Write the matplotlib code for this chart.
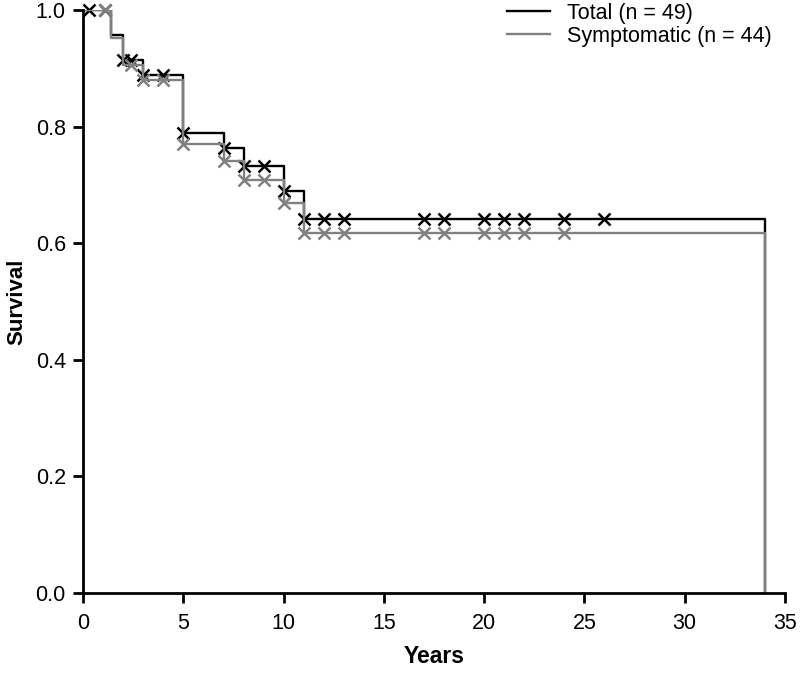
#!/usr/bin/env python3
"""Kaplan-Meier survival curves, total vs symptomatic."""

import matplotlib
matplotlib.use('Agg')
import matplotlib.pyplot as plt

plt.rcParams['font.family'] = ['Liberation Sans', 'DejaVu Sans']

# Total (n = 49): step times / survival after each step
tot_t = [0, 1.4, 2, 3, 5, 7, 8, 10, 11, 34]
tot_s = [1.0, 0.957, 0.914, 0.888, 0.789, 0.763, 0.732, 0.689, 0.642, 0.0]
tot_cens_t = [0.3, 1.1, 2, 2.4, 3, 4, 5, 7, 8, 9, 10, 11, 12, 13, 17, 18, 20, 21, 22, 24, 26]
tot_cens_s = [1.0, 1.0, 0.914, 0.914, 0.888, 0.888, 0.789, 0.763, 0.732, 0.732, 0.689,
              0.642, 0.642, 0.642, 0.642, 0.642, 0.642, 0.642, 0.642, 0.642, 0.642]

# Symptomatic (n = 44)
sym_t = [0, 1.4, 2, 3, 5, 7, 8, 10, 11, 34]
sym_s = [1.0, 0.952, 0.906, 0.880, 0.770, 0.741, 0.708, 0.669, 0.617, 0.0]
sym_cens_t = [1.1, 2.4, 3, 4, 5, 7, 8, 9, 10, 11, 12, 13, 17, 18, 20, 21, 22, 24]
sym_cens_s = [1.0, 0.906, 0.880, 0.880, 0.770, 0.741, 0.708, 0.708, 0.669,
              0.617, 0.617, 0.617, 0.617, 0.617, 0.617, 0.617, 0.617, 0.617]

GRAY = '#808080'

fig = plt.figure(figsize=(8, 6.73), dpi=100)
ax = fig.add_axes([0.104, 0.119, 0.877, 0.866])

ax.step(tot_t, tot_s, where='post', color='black', lw=1.7, label='Total (n = 49)')
ax.plot(tot_cens_t, tot_cens_s, 'x', color='black', ms=8, mew=1.8, clip_on=False)
ax.step(sym_t, sym_s, where='post', color=GRAY, lw=1.7, label='Symptomatic (n = 44)')
ax.plot(sym_cens_t, sym_cens_s, 'x', color=GRAY, ms=8, mew=1.8, clip_on=False)

ax.set_xlim(0, 35)
ax.set_ylim(0, 1.0)
ax.set_xticks(range(0, 36, 5))
ax.set_yticks([0.0, 0.2, 0.4, 0.6, 0.8, 1.0])
ax.set_yticklabels(['0.0', '0.2', '0.4', '0.6', '0.8', '1.0'])
for sp in ('top', 'right'):
    ax.spines[sp].set_visible(False)
for sp in ('left', 'bottom'):
    ax.spines[sp].set_linewidth(2)
ax.tick_params(direction='out', length=7.5, width=2, labelsize=15.5)
ax.tick_params(axis='x', pad=7)
ax.tick_params(axis='y', pad=5)
ax.set_xlabel('Years', fontsize=16.5, fontweight='bold', labelpad=8)
ax.set_ylabel('Survival', fontsize=16, fontweight='bold', labelpad=6)

leg = ax.legend(loc='upper right', bbox_to_anchor=(1.0, 1.035), frameon=False,
                fontsize=15.5, handlelength=2.0, handletextpad=0.8,
                labelspacing=0.1, borderaxespad=0.2)

fig.savefig('out.png', dpi=100)
print('EOF')
